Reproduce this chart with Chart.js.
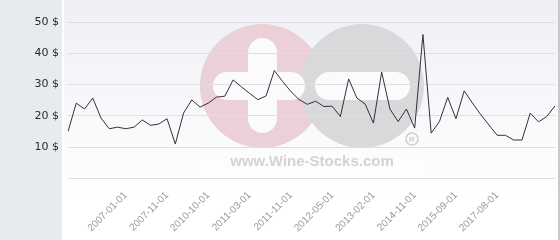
<!DOCTYPE html>
<html>
<head>
<meta charset="utf-8">
<script src="https://cdn.jsdelivr.net/npm/chart.js@4/dist/chart.umd.min.js"></script>
<style>
  html, body { margin: 0; padding: 0; background: #fff; }
  #wrap { width: 560px; height: 240px; }
</style>
</head>
<body>
<div id="wrap"><canvas id="c" width="560" height="240"></canvas></div>
<script>
// prix relevés, un point par cotation
const prices = [
  15.0, 24.1, 22.2, 25.7, 19.3, 15.9, 16.4, 15.9, 16.4, 18.7,
  17.0, 17.4, 19.1, 11.0, 20.9, 25.1, 22.8, 24.1, 26.0, 26.3,
  31.5, 29.3, 27.2, 25.2, 26.4, 34.5, 31.0, 27.8, 25.2, 23.7,
  24.7, 23.0, 23.1, 19.8, 31.8, 25.7, 23.8, 17.7, 34.0, 22.2,
  18.2, 22.2, 16.1, 46.0, 14.5, 18.2, 25.9, 19.1, 28.0, 24.1,
  20.4, 17.1, 13.8, 13.8, 12.3, 12.3, 20.9, 18.1, 19.8, 23.2
];
// dates affichées sous l'axe et leur position (index du point)
const dateLabels = ['2007-01-01', '2007-11-01', '2010-10-01', '2011-03-01', '2011-11-01',
                    '2012-05-01', '2013-02-01', '2014-11-01', '2015-09-01', '2017-08-01'];
const dateIndex = [7, 12, 17, 22, 27, 32, 37, 42, 47, 52];
const yTicks = [0, 10, 20, 30, 40, 50];

// fond + filigrane
const backdrop = {
  id: 'backdrop',
  beforeDraw(chart) {
    const ctx = chart.ctx;
    ctx.save();
    ctx.fillStyle = '#e7ebee';
    ctx.fillRect(0, 0, 62, 240);
    ctx.fillStyle = '#ffffff';
    ctx.fillRect(62, 0, 2, 240);
    const g = ctx.createLinearGradient(0, 0, 0, 200);
    g.addColorStop(0, '#eff0f5');
    g.addColorStop(1, '#ffffff');
    ctx.fillStyle = g;
    ctx.fillRect(64, 0, 494, 240);
    ctx.fillStyle = '#c9c9cc';
    ctx.fillRect(558, 0, 2, 240);

    // cercles
    ctx.fillStyle = '#ebd0d8';
    ctx.beginPath(); ctx.arc(262, 86, 62, 0, Math.PI * 2); ctx.fill();
    ctx.fillStyle = '#d9d9db';
    ctx.beginPath(); ctx.arc(362, 86, 62, 0, Math.PI * 2); ctx.fill();
    const bar = (x, y, w, h) => {
      const r = Math.min(w, h) / 2;
      ctx.beginPath();
      ctx.roundRect(x, y, w, h, r);
      ctx.fill();
    };
    ctx.fillStyle = '#fbfbfd';
    bar(248, 38, 29, 95);
    bar(213, 72, 92, 28);
    bar(315, 72, 95, 28);

    ctx.fillStyle = 'rgba(255,255,255,0.3)';
    ctx.fillRect(196, 150, 231, 25);
    ctx.fillStyle = '#d3d3d3';
    ctx.font = 'bold 15px "Liberation Sans", Arial, sans-serif';
    ctx.textAlign = 'center';
    ctx.textBaseline = 'middle';
    ctx.fillText('www.Wine-Stocks.com', 312, 162);

    ctx.strokeStyle = '#cdcdcd';
    ctx.lineWidth = 1.5;
    ctx.beginPath(); ctx.arc(412, 139, 6, 0, Math.PI * 2); ctx.stroke();
    ctx.fillStyle = '#cdcdcd';
    ctx.font = 'bold 8px "Liberation Sans", Arial, sans-serif';
    ctx.fillText('R', 412, 139.5);
    ctx.restore();
  }
};

new Chart(document.getElementById('c'), {
  type: 'line',
  data: {
    datasets: [{
      data: prices.map((v, i) => ({ x: i, y: v })),
      borderColor: '#3d2b35',
      borderWidth: 1,
      pointRadius: 0,
      tension: 0,
      fill: false
    }]
  },
  options: {
    responsive: false,
    animation: false,
    layout: { padding: { top: 22, right: 5, left: 0, bottom: 0 } },
    plugins: { legend: { display: false }, tooltip: { enabled: false } },
    scales: {
      x: {
        type: 'linear',
        min: 0,
        max: prices.length - 1,
        afterBuildTicks(scale) { scale.ticks = dateIndex.map(v => ({ value: v })); },
        afterFit(scale) { scale.height = 61.5; },
        grid: { display: false, drawTicks: false },
        border: { display: false },
        ticks: {
          autoSkip: false,
          minRotation: 45,
          maxRotation: 45,
          padding: 11,
          color: '#999999',
          font: { family: '"Liberation Sans", Arial, sans-serif', size: 10 },
          callback: (v) => dateLabels[dateIndex.indexOf(v)] || ''
        }
      },
      y: {
        min: 0,
        max: 50,
        afterBuildTicks(scale) { scale.ticks = yTicks.map(v => ({ value: v })); },
        afterFit(scale) { scale.width = 68; },
        grid: { color: '#dfdfe1', drawTicks: false },
        border: { display: false },
        ticks: {
          padding: 9,
          color: '#2a2a2a',
          font: { family: '"DejaVu Sans", sans-serif', size: 11 },
          callback: (v) => v === 0 ? '' : v + ' $'
        }
      }
    }
  },
  plugins: [backdrop]
});
</script>
</body>
</html>
